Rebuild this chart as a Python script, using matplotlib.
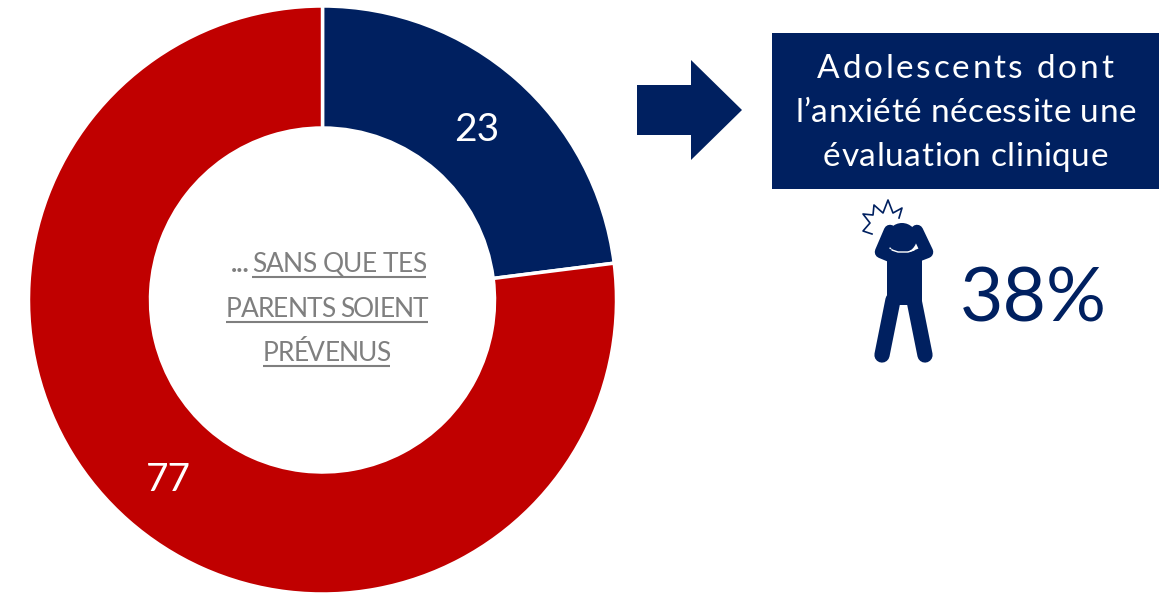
import matplotlib
matplotlib.use("Agg")
import matplotlib.pyplot as plt
from matplotlib.patches import Polygon, Rectangle, Circle, Wedge

plt.rcParams['font.family'] = ['Lato', 'DejaVu Sans']

# donut values
values = [23, 77]
value_labels = ['23', '77']
colors = ['#002060', '#C00000']
center_lines = ['SANS QUE TES', 'PARENTS SOIENT', 'PRÉVENUS']
box_lines = ['Adolescents dont', 'l’anxiété nécessite une', 'évaluation clinique']
stat_label = '38%'

NAVY = '#002060'
W, H = 1166, 593

fig = plt.figure(figsize=(W / 100, H / 100), dpi=100)
ax = fig.add_axes([0, 0, 1, 1])
ax.set_xlim(0, W)
ax.set_ylim(H, 0)
ax.axis('off')

# donut, y axis is flipped so go clockwise in picture with increasing angle
cx, cy, r_out, r_in = 322.5, 300, 294, 172
start = -90
for v, c in zip(values, colors):
    sweep = v / sum(values) * 360
    ax.add_patch(Wedge((cx, cy), r_out, start, start + sweep, width=r_out - r_in,
                       facecolor=c, edgecolor='white', linewidth=2.5))
    start += sweep

ax.text(477, 130, value_labels[0], color='white', fontsize=28, ha='center', va='center')
ax.text(168, 480, value_labels[1], color='white', fontsize=28, ha='center', va='center')


def fit_text(x0, x1, y, s, size, color):
    # spread the letters so the line runs from x0 to x1
    rend = fig.canvas.get_renderer()
    probe = ax.text(0, 0, s, fontsize=size)
    full = probe.get_window_extent(rend).width
    probe.remove()
    extra = (x1 - x0 - full) / (len(s) - 1)
    for i, ch in enumerate(s):
        p = ax.text(0, 0, s[:i], fontsize=size)
        adv = p.get_window_extent(rend).width if i else 0
        p.remove()
        ax.text(x0 + adv + extra * i, y, ch, fontsize=size, color=color, ha='left', va='baseline')


# center text, underlined by hand
gray = '#7F7F7F'
for line, y, x0, x1 in zip(center_lines, [272, 317, 361], [252, 226, 263], [426, 428, 390]):
    fit_text(x0, x1, y, line, 19, gray)
    ax.plot([x0, x1], [y + 5, y + 5], color=gray, lw=1.5, solid_capstyle='butt')
ax.text(240, 272, '...', color=gray, fontsize=19, fontweight='bold', ha='center', va='baseline')

# arrow
ax.add_patch(Polygon([(637, 85), (691, 85), (691, 60), (742, 110), (691, 160), (691, 135), (637, 135)],
                     closed=True, facecolor=NAVY, edgecolor='none'))

# box
ax.add_patch(Rectangle((772, 33), 387, 156, facecolor=NAVY, edgecolor='none'))
fit_text(817, 1113, 78, box_lines[0], 24, 'white')
fit_text(795, 1136, 122, box_lines[1], 24, 'white')
fit_text(823, 1108, 166, box_lines[2], 24, 'white')

# person icon
ax.plot([890, 881, 893], [231, 252, 257], color=NAVY, lw=9, solid_capstyle='round', solid_joinstyle='round')
ax.plot([917, 927, 914], [231, 252, 257], color=NAVY, lw=9, solid_capstyle='round', solid_joinstyle='round')
ax.add_patch(Rectangle((887, 252), 35, 53, facecolor=NAVY, edgecolor='none'))
ax.add_patch(Polygon([(890, 241), (885, 250), (895, 250)], facecolor='white', edgecolor='none'))
ax.add_patch(Polygon([(916, 241), (923, 250), (912, 250)], facecolor='white', edgecolor='none'))
ax.plot([892, 898, 908, 914], [250, 252, 252, 250], color='white', lw=1, solid_capstyle='round')
ax.add_patch(Circle((902, 238), 15, facecolor=NAVY, edgecolor='none'))
ax.plot([893, 882], [300, 355], color=NAVY, lw=11, solid_capstyle='round')
ax.plot([914, 925], [300, 355], color=NAVY, lw=11, solid_capstyle='round')

# burst
burst = [(872, 234), (863, 231), (870, 223), (863, 214), (873, 215), (874, 205), (883, 213),
         (888, 200), (893, 213), (902, 208), (899, 218)]
ax.plot(*zip(*burst), color=NAVY, lw=1.2)

ax.text(1033.5, 322, stat_label, color=NAVY, fontsize=54, ha='center', va='baseline')

fig.savefig('out.png', dpi=100, facecolor='white')
